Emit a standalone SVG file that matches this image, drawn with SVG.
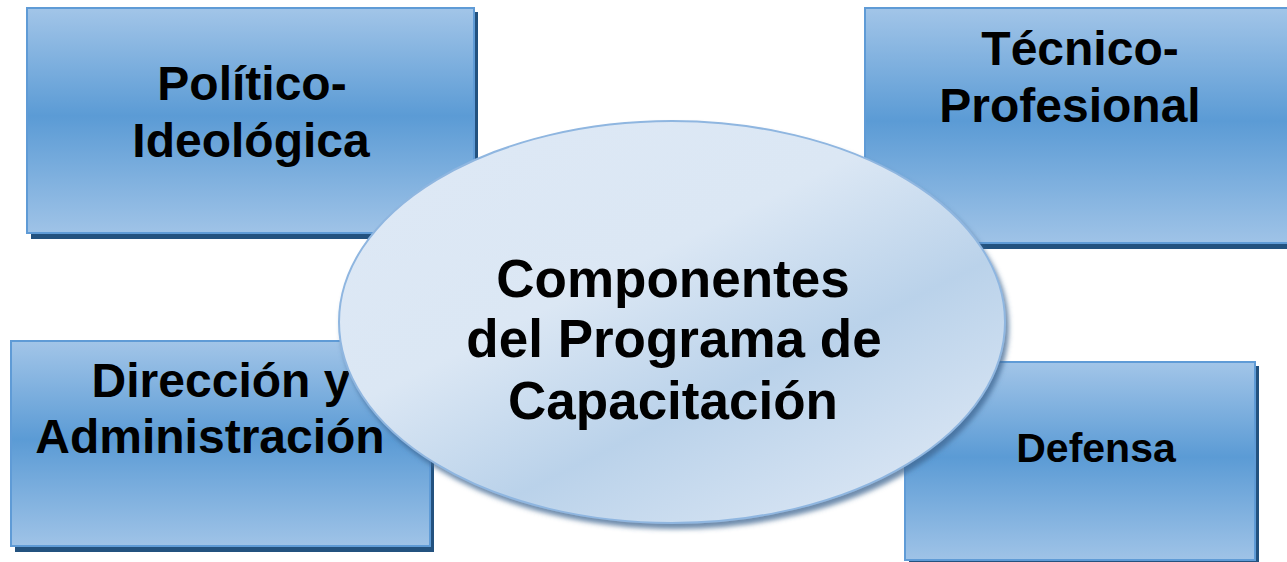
<svg xmlns="http://www.w3.org/2000/svg" width="1287" height="562" viewBox="0 0 1287 562">
<defs>
<linearGradient id="boxg" x1="0" y1="0" x2="0" y2="1">
<stop offset="0" stop-color="#a2c5e8"/>
<stop offset="0.48" stop-color="#5b9bd5"/>
<stop offset="1" stop-color="#9fc3e7"/>
</linearGradient>
<linearGradient id="ellg" x1="0.15" y1="0.1" x2="0.85" y2="0.95">
<stop offset="0" stop-color="#dde8f5"/>
<stop offset="0.35" stop-color="#dbe7f4"/>
<stop offset="0.65" stop-color="#bad2ea"/>
<stop offset="1" stop-color="#dae6f4"/>
</linearGradient>
<filter id="esh" x="-10%" y="-10%" width="125%" height="130%">
<feDropShadow dx="3" dy="5" stdDeviation="2.5" flood-color="#3d6591" flood-opacity="0.75"/>
</filter>
<style>
.box{fill:url(#boxg);stroke:#5f9bd6;stroke-width:2}
.sh{fill:#23527f}
.t{font-family:"Liberation Sans",Arial,sans-serif;font-weight:bold;fill:#000;text-anchor:middle}
</style>
</defs>
<g id="node-politico">
<rect class="sh" x="31" y="12" width="447" height="227"/>
<rect class="box" x="27" y="8" width="447" height="225"/>
<text class="t" font-size="48" x="252" y="100">Político-</text>
<text class="t" font-size="48" x="251" y="157">Ideológica</text>
</g>
<g id="node-tecnico">
<rect class="sh" x="869" y="12" width="430" height="237"/>
<rect class="box" x="865" y="8" width="430" height="235"/>
<text class="t" font-size="48" x="1080" y="65">Técnico-</text>
<text class="t" font-size="48" x="1070" y="122">Profesional</text>
</g>
<g id="node-direccion">
<rect class="sh" x="15" y="345" width="419" height="207"/>
<rect class="box" x="11" y="341" width="419" height="205"/>
<text class="t" font-size="48" x="221" y="397">Dirección y</text>
<text class="t" font-size="48" x="210" y="453">Administración</text>
</g>
<g id="node-defensa">
<rect class="sh" x="909" y="366" width="350" height="200"/>
<rect class="box" x="905" y="362" width="350" height="198"/>
<text class="t" font-size="41" x="1096" y="462">Defensa</text>
</g>
<g id="node-center">
<ellipse cx="672" cy="322" rx="333" ry="201" fill="url(#ellg)" stroke="#8fb6e0" stroke-width="2" filter="url(#esh)"/>
<text class="t" font-size="53" x="673" y="297">Componentes</text>
<text class="t" font-size="53" x="674" y="357">del Programa de</text>
<text class="t" font-size="53" x="673" y="419">Capacitación</text>
</g>
<g id="connectors"/>
</svg>
